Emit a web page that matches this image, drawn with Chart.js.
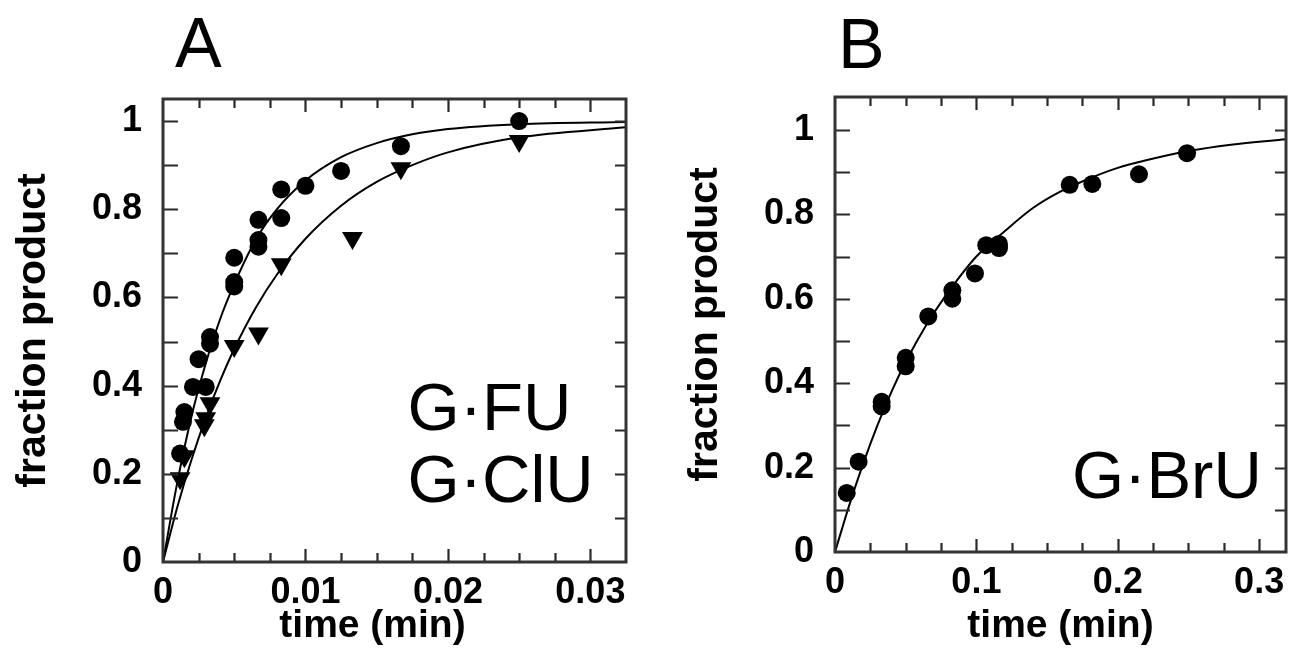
<!DOCTYPE html>
<html>
<head>
<meta charset="utf-8">
<script src="https://cdn.jsdelivr.net/npm/chart.js@4.4.0/dist/chart.umd.min.js"></script>
<style>
html, body { margin: 0; padding: 0; background: #fff; }
#wrap { position: relative; width: 1295px; height: 663px; }
canvas { position: absolute; top: 0; }
</style>
</head>
<body>
<div id="wrap">
  <canvas id="chartA" width="647" height="663" style="left:0"></canvas>
  <canvas id="chartB" width="648" height="663" style="left:647px"></canvas>
</div>
<script>
// panel A: G·FU (circles)
const fuTime = [0.0012, 0.0014, 0.0015, 0.0021, 0.003, 0.0025, 0.0033, 0.0033, 0.005, 0.005, 0.005, 0.0067, 0.0067, 0.0067, 0.0083, 0.0083, 0.01, 0.0125, 0.0167, 0.025]
const fuFrac = [0.246, 0.318, 0.34, 0.397, 0.397, 0.46, 0.495, 0.51, 0.625, 0.635, 0.69, 0.715, 0.73, 0.776, 0.78, 0.845, 0.853, 0.887, 0.943, 1.0]
// panel A: G·ClU (triangles)
const cluTime = [0.0012, 0.0015, 0.0029, 0.003, 0.0033, 0.005, 0.0067, 0.0083, 0.0133, 0.0167, 0.025]
const cluFrac = [0.19, 0.24, 0.31, 0.326, 0.36, 0.49, 0.518, 0.675, 0.735, 0.893, 0.955]
// fitted curves
const fitTimeA = [0, 0.001, 0.002, 0.003, 0.004, 0.005, 0.0065, 0.008, 0.01, 0.0125, 0.015, 0.0175, 0.02, 0.025, 0.0325]
const fitFu = [0, 0.18, 0.33, 0.45, 0.55, 0.63, 0.73, 0.80, 0.865, 0.918, 0.95, 0.97, 0.982, 0.993, 0.998]
const fitClu = [0, 0.124, 0.232, 0.327, 0.41, 0.483, 0.576, 0.652, 0.733, 0.808, 0.862, 0.90, 0.929, 0.963, 0.986]

// panel B: G·BrU
const bruTime = [0.0083, 0.0167, 0.033, 0.033, 0.05, 0.05, 0.066, 0.083, 0.083, 0.099, 0.107, 0.116, 0.116, 0.166, 0.182, 0.215, 0.249]
const bruFrac = [0.14, 0.214, 0.345, 0.356, 0.44, 0.46, 0.558, 0.60, 0.62, 0.66, 0.727, 0.72, 0.73, 0.87, 0.872, 0.895, 0.945]
const fitTimeB = [0, 0.01, 0.02, 0.03, 0.04, 0.05, 0.065, 0.08, 0.1, 0.12, 0.14, 0.16, 0.18, 0.2, 0.22, 0.25, 0.28, 0.319]
const fitBru = [0, 0.11, 0.21, 0.30, 0.38, 0.45, 0.54, 0.615, 0.70, 0.76, 0.815, 0.855, 0.885, 0.91, 0.928, 0.95, 0.965, 0.978]

const yTicksMajor = 0.2
const FONT = '"Liberation Sans", Arial, Helvetica, sans-serif'

function pts(xs, ys) {
    return xs.map((x, i) => ({ x: x, y: ys[i] }))
}

function isMultiple(v, step) {
    return Math.abs(v / step - Math.round(v / step)) < 1e-6
}

function fmt(v) {
    return String(+v.toFixed(4))
}

// frame with inward ticks, panel letter, labels, axis titles
const framePlugin = {
    id: "frame",
    afterDraw(chart, args, opts) {
        const ctx = chart.ctx
        const a = chart.chartArea
        const x = chart.scales.x
        const y = chart.scales.y
        ctx.save()
        ctx.strokeStyle = "#2a2a2a"
        ctx.lineWidth = 2.2
        ctx.beginPath()
        x.ticks.forEach(t => {
            if (t.value <= x.min + 1e-9 || t.value >= x.max - 1e-9) return
            const px = Math.round(x.getPixelForValue(t.value)) + 0.5
            const len = t.label !== "" ? 13 : 9
            ctx.moveTo(px, a.bottom); ctx.lineTo(px, a.bottom - len)
            ctx.moveTo(px, a.top); ctx.lineTo(px, a.top + len)
        })
        y.ticks.forEach(t => {
            if (t.value <= y.min + 1e-9 || t.value >= y.max - 1e-9) return
            const py = Math.round(y.getPixelForValue(t.value)) + 0.5
            ctx.moveTo(a.left, py); ctx.lineTo(a.left + 15, py)
            ctx.moveTo(a.right, py); ctx.lineTo(a.right - 11, py)
        })
        ctx.stroke()
        ctx.lineWidth = 3
        ctx.strokeStyle = "#333"
        ctx.strokeRect(a.left, a.top, a.right - a.left, a.bottom - a.top)

        ctx.fillStyle = "#000"
        // panel letter
        ctx.font = "70px " + FONT
        ctx.textAlign = "left"
        ctx.textBaseline = "alphabetic"
        ctx.fillText(opts.letter, a.left + opts.letterDx, a.top - opts.letterDy)

        // pair labels
        ctx.font = "67px " + FONT
        opts.labels.forEach(l => {
            ctx.fillText(l.text, x.getPixelForValue(l.x), y.getPixelForValue(l.y))
        })

        // axis titles
        ctx.font = "bold 39px " + FONT
        ctx.textAlign = "center"
        ctx.fillText("time (min)", (a.left + a.right) / 2 + opts.xTitleDx, 637)
        ctx.font = "bold 41px " + FONT
        ctx.translate(a.left - 118, (a.top + a.bottom) / 2)
        ctx.rotate(-Math.PI / 2)
        ctx.fillText("fraction product", 0, 0)
        ctx.restore()
    }
}

function makeChart(id, cfg) {
    const curveSets = cfg.curves.map(c => ({
        data: c,
        showLine: true,
        borderColor: "#000",
        borderWidth: 2,
        pointRadius: 0,
        cubicInterpolationMode: "monotone",
        fill: false
    }))
    const pointSets = cfg.points.map(p => ({
        data: p.data,
        pointStyle: p.style,
        rotation: p.rotation || 0,
        pointRadius: p.radius,
        backgroundColor: "#000",
        borderColor: "#000",
        borderWidth: 0,
        showLine: false
    }))
    return new Chart(document.getElementById(id).getContext("2d"), {
        type: "scatter",
        data: { datasets: curveSets.concat(pointSets) },
        options: {
            responsive: false,
            animation: false,
            layout: { padding: cfg.padding },
            plugins: {
                legend: { display: false },
                tooltip: { enabled: false },
                frame: cfg.frame
            },
            scales: {
                x: {
                    type: "linear",
                    min: 0,
                    max: cfg.xMax,
                    grid: { display: false, drawTicks: false },
                    border: { display: false },
                    ticks: {
                        stepSize: cfg.xStep,
                        includeBounds: false,
                        autoSkip: false,
                        maxRotation: 0,
                        padding: 9,
                        color: "#000",
                        font: { family: FONT, size: 36, weight: "bold" },
                        callback: v => isMultiple(v, cfg.xMajor) ? fmt(v) : ""
                    },
                    afterFit(s) {
                        s.height = cfg.xHeight
                        s.paddingLeft = 0
                        s.paddingRight = 0
                    }
                },
                y: {
                    type: "linear",
                    min: 0,
                    max: cfg.yMax,
                    grid: { display: false, drawTicks: false },
                    border: { display: false },
                    ticks: {
                        stepSize: 0.1,
                        includeBounds: false,
                        autoSkip: false,
                        padding: 21,
                        color: "#000",
                        font: { family: FONT, size: 36, weight: "bold" },
                        callback: v => isMultiple(v, yTicksMajor) ? fmt(v) : ""
                    },
                    afterFit(s) {
                        s.width = cfg.yWidth
                        s.paddingTop = 0
                        s.paddingBottom = 0
                    }
                }
            }
        },
        plugins: [framePlugin]
    })
}

makeChart("chartA", {
    curves: [pts(fitTimeA, fitFu), pts(fitTimeA, fitClu)],
    points: [
        { data: pts(fuTime, fuFrac), style: "circle", radius: 9 },
        { data: pts(cluTime, cluFrac), style: "triangle", rotation: 180, radius: 12 }
    ],
    xMax: 0.0325, xStep: 0.0025, xMajor: 0.01,
    yMax: 1.05,
    padding: { top: 99, right: 21, bottom: 0, left: 0 },
    xHeight: 101, yWidth: 163,
    frame: {
        letter: "A", letterDx: 12, letterDy: 32, xTitleDx: -22,
        labels: [
            { text: "G\u00b7FU", x: 0.01717, y: 0.30 },
            { text: "G\u00b7ClU", x: 0.01717, y: 0.135 }
        ]
    }
})

makeChart("chartB", {
    curves: [pts(fitTimeB, fitBru)],
    points: [
        { data: pts(bruTime, bruFrac), style: "circle", radius: 9 }
    ],
    xMax: 0.319, xStep: 0.025, xMajor: 0.1,
    yMax: 1.078,
    padding: { top: 97, right: 7, bottom: 0, left: 0 },
    xHeight: 111, yWidth: 188,
    frame: {
        letter: "B", letterDx: 3, letterDy: 29, xTitleDx: 0,
        labels: [
            { text: "G\u00b7BrU", x: 0.1676, y: 0.128 }
        ]
    }
})
</script>
</body>
</html>
